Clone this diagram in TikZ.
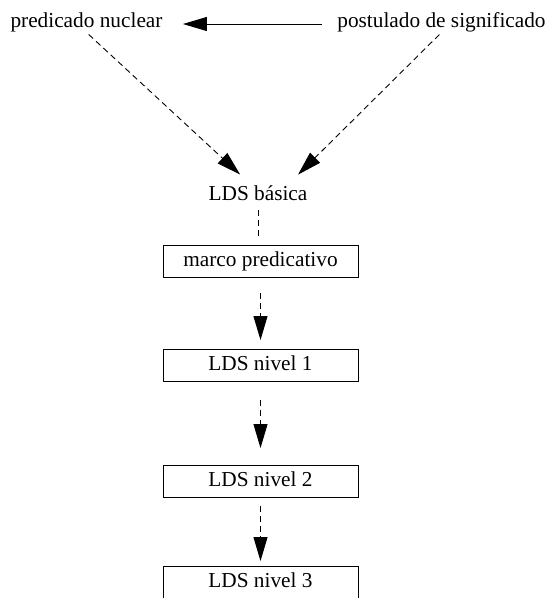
\documentclass[tikz,border=0pt]{standalone}
\usepackage{fontspec}
\setmainfont{Liberation Serif}
\usetikzlibrary{arrows.meta}

\begin{document}
\begin{tikzpicture}[x=1pt,y=-1pt,line cap=butt,line join=miter,line width=0.9pt,
  lbl/.style={inner sep=0pt,text height=15pt,text depth=5pt,font=\fontsize{21.3}{25}\selectfont},
  caja/.style={lbl,draw,minimum width=195pt,minimum height=32pt},
  punta/.style={-{Triangle[length=24pt,width=14pt]}},
  trazos/.style={dash pattern=on 6pt off 4pt}]
  \useasboundingbox (0,0) rectangle (547,598);
  \node[lbl,anchor=base] (pn) at (86.5,27) {predicado nuclear};
  \node[lbl,anchor=base] (ps) at (441.5,27) {postulado de significado};
  \node[lbl,anchor=base] (lds) at (258,200) {LDS básica};
  \node[caja] (marco) at (260.5,261) {marco predicativo};
  \node[caja] (n1) at (260.5,365.5) {LDS nivel 1};
  \node[caja] (n2) at (260.5,481.5) {LDS nivel 2};
  \node[caja] (n3) at (260.5,582.5) {LDS nivel 3};
  \draw[punta,shorten <=15pt,shorten >=20pt] ([yshift=-2pt]ps.west) -- ([yshift=-2pt]pn.east);
  \draw[punta,trazos,shorten <=3pt,shorten >=14.8pt] (pn.south) -- ([xshift=-7pt]lds.north);
  \draw[punta,trazos,shorten <=3pt,shorten >=14.1pt] (ps.south) -- ([xshift=30pt]lds.north);
  \draw[trazos,shorten <=5pt,shorten >=7pt] (lds.south) -- (lds.south |- marco.north);
  \draw[punta,trazos,shorten <=16pt,shorten >=9pt] (marco.south) -- (n1.north);
  \draw[punta,trazos,shorten <=18pt,shorten >=17pt] (n1.south) -- (n2.north);
  \draw[punta,trazos,shorten <=8pt,shorten >=5pt] (n2.south) -- (n3.north);
\end{tikzpicture}
\end{document}
